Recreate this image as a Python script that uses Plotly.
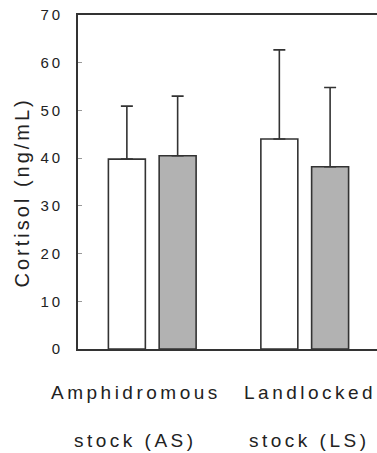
import plotly.graph_objects as go

# ---- data ----
cat_line1 = ["Amphidromous", "Landlocked"]
cat_line2 = ["stock (AS)", "stock (LS)"]
categories = [0, 1]
series_names = ["Group A", "Group B"]
means_white = [39.8, 44.0]
sd_white = [11.1, 18.7]
means_gray = [40.5, 38.2]
sd_gray = [12.5, 16.6]
y_ticks = [0, 10, 20, 30, 40, 50, 60, 70]
y_title = "Cortisol (ng/mL)"

FONT = "Liberation Sans, Arial, Helvetica, sans-serif"
TXT = "#222222"
LINE = "#333333"


def spaced(s, px):
    return '<span style="letter-spacing:%spx">%s</span>' % (px, s)


fig = go.Figure()
for name, m, sd, fill in [
    (series_names[0], means_white, sd_white, "#ffffff"),
    (series_names[1], means_gray, sd_gray, "#b2b2b2"),
]:
    fig.add_trace(go.Bar(
        x=categories, y=m, name=name,
        marker=dict(color=fill, line=dict(color=LINE, width=1.6)),
        error_y=dict(type="data", symmetric=False, array=sd,
                     arrayminus=[0] * len(sd), color=LINE,
                     thickness=1.6, width=6),
    ))

annotations = []
for i, (a, b) in enumerate(zip(cat_line1, cat_line2)):
    xoff = -0.107 if i == 0 else 0.034
    annotations.append(dict(x=categories[i] + xoff, xref="x", y=-0.1317, yref="paper",
                            text=spaced(a, 3.5), showarrow=False, xanchor="center",
                            yanchor="middle", font=dict(size=19, color=TXT, family=FONT)))
    annotations.append(dict(x=categories[i] + xoff, xref="x", y=-0.2725, yref="paper",
                            text=spaced(b, 3.5), showarrow=False, xanchor="center",
                            yanchor="middle", font=dict(size=19, color=TXT, family=FONT)))
annotations.append(dict(x=-0.184, xref="paper", y=0.4686, yref="paper",
                        text=spaced(y_title, 3), textangle=-90, showarrow=False,
                        xanchor="center", yanchor="middle",
                        font=dict(size=20, color=TXT, family=FONT)))

fig.update_layout(
    width=377, height=453,
    margin=dict(l=78, r=0, t=15, b=104),
    paper_bgcolor="white", plot_bgcolor="white",
    showlegend=False,
    barmode="group", bargap=0.334, bargroupgap=0.272,
    annotations=annotations,
    font=dict(family=FONT, color=TXT),
)
fig.update_xaxes(
    range=[-0.487, 1.474], showgrid=False, zeroline=False,
    showline=True, linecolor=LINE, linewidth=1.8, mirror=True,
    showticklabels=False, ticks="",
)
fig.update_yaxes(
    range=[0, 70], tickvals=y_ticks, ticktext=[spaced(str(v), 3) for v in y_ticks],
    showgrid=False, zeroline=False, showline=True, linecolor=LINE, linewidth=1.8,
    ticks="inside", ticklen=4, tickcolor="#999999", tickwidth=1,
    tickfont=dict(size=15, color=TXT, family=FONT), ticklabelstandoff=10,
)
fig.write_html("out.html")
